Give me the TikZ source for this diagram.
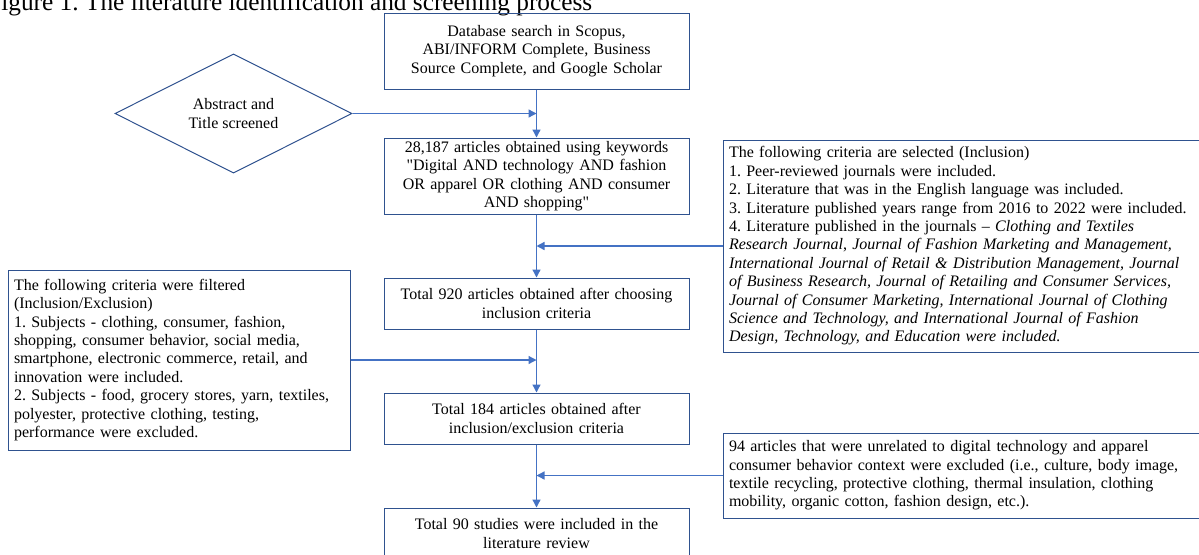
\documentclass[tikz,border=0pt]{standalone}
\usepackage{fontspec}
\setmainfont{Liberation Serif}[Ligatures=TeXOff]
\usepackage{xcolor}
\usepackage{tikz}
\usetikzlibrary{calc, shapes.geometric, arrows.meta}

\definecolor{boxblue}{RGB}{47,82,143}
\definecolor{linkblue}{RGB}{68,114,196}

\tikzset{
    flowbox/.style={draw=boxblue, line width=0.75pt, inner sep=0pt, align=center,
        text width=228.75pt, font=\fontsize{12}{13.8}\selectfont},
    notebox/.style={draw=boxblue, line width=0.75pt, inner xsep=4.5pt, inner ysep=0pt,
        align=left, font=\fontsize{12}{13.8}\selectfont},
    link/.style={->, draw=linkblue, line width=1pt},
}

\begin{document}
\frenchspacing
\begin{tikzpicture}[x=0.75pt, y=-0.75pt, >={Triangle[length=6pt, width=6pt]}]
    % Khung trang
    \useasboundingbox (0,0) rectangle (1199,554);

    % Tiêu đề
    \node[anchor=base west, inner sep=0pt, font=\fontsize{19}{21}\selectfont] (title) at (-13,10)
        {Figure 1. The literature identification and screening process};

    % Các bước chính ở cột giữa
    \node[flowbox, minimum height=57pt] (db) at (536.5,51)
        {Database search in Scopus,\\ ABI/INFORM Complete, Business\\ Source Complete, and Google Scholar};
    \node[flowbox, minimum height=57pt] (kw) at (536.5,176)
        {28,187 articles obtained using keywords\\ "Digital AND technology AND fashion\\ OR apparel OR clothing AND consumer\\ AND shopping"};
    \node[flowbox, minimum height=38.25pt] (k920) at (536.5,303.5)
        {Total 920 articles obtained after choosing\\ inclusion criteria};
    \node[flowbox, minimum height=38.25pt] (k184) at (536.5,418.5)
        {Total 184 articles obtained after\\ inclusion/exclusion criteria};
    \node[flowbox, minimum height=38.25pt] (k90) at (536.5,533.5)
        {Total 90 studies were included in the\\ literature review};

    % Bước sàng lọc (hình thoi)
    \node[diamond, draw=boxblue, line width=0.75pt, inner sep=0pt, align=center,
        minimum width=177.75pt, minimum height=68.25pt,
        font=\fontsize{12}{13.8}\selectfont] (scr) at (233.5,113.5)
        {Abstract and\\ Title screened};

    % Các hộp tiêu chí hai bên
    \node[notebox, text width=247.5pt, minimum height=135pt] (filt) at (179,360)
        {The following criteria were filtered\\
        (Inclusion/Exclusion)\\
        1. Subjects - clothing, consumer, fashion,\\
        shopping, consumer behavior, social media,\\
        smartphone, electronic commerce, retail, and\\
        innovation were included.\\
        2. Subjects - food, grocery stores, yarn, textiles,\\
        polyester, protective clothing, testing,\\
        performance were excluded.};
    \node[notebox, text width=366pt, minimum height=159pt] (incl) at (973,246)
        {The following criteria are selected (Inclusion)\\
        1. Peer-reviewed journals were included.\\
        2. Literature that was in the English language was included.\\
        3. Literature published years range from 2016 to 2022 were included.\\
        4. Literature published in the journals \textendash{} \textit{Clothing and Textiles}\\
        \textit{Research Journal}, \textit{Journal of Fashion Marketing and Management,}\\
        \textit{International Journal of Retail \& Distribution Management, Journal}\\
        \textit{of Business Research, Journal of Retailing and Consumer Services,}\\
        \textit{Journal of Consumer Marketing, International Journal of Clothing}\\
        \textit{Science and Technology, and International Journal of Fashion}\\
        \textit{Design, Technology, and Education were included.}};
    \node[notebox, text width=366pt, minimum height=63.75pt] (excl) at (973,475.5)
        {94 articles that were unrelated to digital technology and apparel\\
        consumer behavior context were excluded (i.e., culture, body image,\\
        textile recycling, protective clothing, thermal insulation, clothing\\
        mobility, organic cotton, fashion design, etc.).};

    % Mũi tên dòng chính
    \draw[link] (db.south) -- (kw.north);
    \draw[link] (kw.south) -- (k920.north);
    \draw[link] (k920.south) -- (k184.north);
    \draw[link] (k184.south) -- (k90.north);

    % Mũi tên từ các hộp bên vào dòng chính
    \draw[link] (scr.east) -- (scr.east -| db.south);
    \draw[link] (incl.west) -- (incl.west -| kw.south);
    \draw[link] (filt.east) -- (filt.east -| k920.south);
    \draw[link] (excl.west) -- (excl.west -| k184.south);
\end{tikzpicture}
\end{document}
